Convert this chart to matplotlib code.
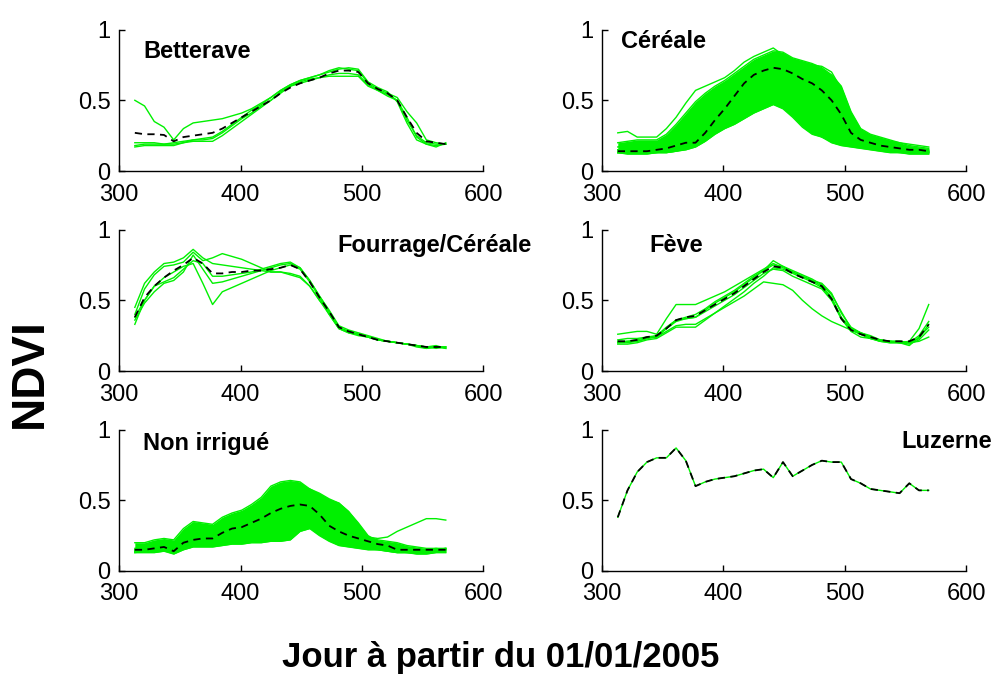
import numpy as np
import matplotlib
matplotlib.use('Agg')
import matplotlib.pyplot as plt

# days since 01/01/2005 (8-day composites)
days = [313, 321, 329, 337, 345, 353, 361, 369, 377, 385, 393, 401, 409, 417, 425, 433, 441,
        449, 457, 465, 473, 481, 489, 497, 505, 513, 521, 529, 537, 545, 553, 561, 569]

#------------------------------ NDVI profiles per crop class

betterave_lines = [
    [0.50, 0.46, 0.35, 0.31, 0.22, 0.30, 0.34, 0.35, 0.36, 0.37, 0.39, 0.41, 0.44, 0.48, 0.52, 0.57, 0.61,
     0.64, 0.66, 0.68, 0.71, 0.73, 0.72, 0.71, 0.62, 0.58, 0.55, 0.52, 0.42, 0.34, 0.22, 0.20, 0.19],
    [0.18, 0.19, 0.19, 0.19, 0.19, 0.20, 0.21, 0.21, 0.21, 0.25, 0.30, 0.35, 0.40, 0.45, 0.50, 0.55, 0.60,
     0.63, 0.65, 0.66, 0.68, 0.69, 0.69, 0.68, 0.61, 0.57, 0.54, 0.50, 0.36, 0.25, 0.20, 0.19, 0.19],
    [0.17, 0.18, 0.18, 0.18, 0.18, 0.20, 0.22, 0.23, 0.24, 0.28, 0.33, 0.38, 0.43, 0.47, 0.52, 0.57, 0.61,
     0.64, 0.66, 0.68, 0.70, 0.72, 0.73, 0.72, 0.63, 0.59, 0.56, 0.49, 0.34, 0.22, 0.19, 0.18, 0.19],
    [0.20, 0.20, 0.20, 0.19, 0.20, 0.21, 0.22, 0.22, 0.23, 0.27, 0.32, 0.37, 0.41, 0.46, 0.50, 0.56, 0.60,
     0.62, 0.64, 0.66, 0.67, 0.67, 0.67, 0.67, 0.60, 0.57, 0.53, 0.50, 0.38, 0.24, 0.19, 0.17, 0.20],
]
betterave_mean = [0.27, 0.26, 0.26, 0.255, 0.21, 0.24, 0.25, 0.26, 0.27, 0.30, 0.34, 0.38, 0.42, 0.46, 0.50,
                  0.55, 0.59, 0.62, 0.64, 0.66, 0.69, 0.71, 0.71, 0.70, 0.62, 0.58, 0.55, 0.50, 0.38, 0.27,
                  0.21, 0.20, 0.19]

# first profile stands apart from the bulk
cereale_lines = [
    [0.27, 0.28, 0.24, 0.24, 0.24, 0.30, 0.38, 0.48, 0.57, 0.60, 0.63, 0.66, 0.71, 0.77, 0.81, 0.84, 0.87,
     0.82, 0.79, 0.77, 0.75, 0.74, 0.70, 0.58, 0.38, 0.28, 0.25, 0.23, 0.21, 0.20, 0.19, 0.18, 0.17],
    [0.20, 0.21, 0.22, 0.22, 0.22, 0.26, 0.33, 0.41, 0.49, 0.55, 0.60, 0.64, 0.69, 0.74, 0.79, 0.82, 0.85,
     0.84, 0.80, 0.78, 0.76, 0.73, 0.68, 0.60, 0.42, 0.30, 0.26, 0.24, 0.22, 0.20, 0.18, 0.17, 0.16],
    [0.17, 0.18, 0.20, 0.20, 0.19, 0.22, 0.28, 0.35, 0.42, 0.50, 0.56, 0.61, 0.66, 0.71, 0.75, 0.78, 0.80,
     0.78, 0.76, 0.74, 0.72, 0.70, 0.64, 0.55, 0.36, 0.26, 0.23, 0.21, 0.19, 0.18, 0.17, 0.16, 0.15],
    [0.15, 0.16, 0.17, 0.17, 0.17, 0.19, 0.23, 0.28, 0.33, 0.41, 0.49, 0.55, 0.61, 0.67, 0.72, 0.75, 0.77,
     0.76, 0.73, 0.70, 0.67, 0.63, 0.57, 0.47, 0.31, 0.24, 0.21, 0.19, 0.18, 0.17, 0.16, 0.15, 0.14],
    [0.14, 0.14, 0.15, 0.15, 0.15, 0.17, 0.19, 0.22, 0.25, 0.33, 0.41, 0.48, 0.55, 0.62, 0.67, 0.70, 0.73,
     0.72, 0.69, 0.65, 0.60, 0.55, 0.48, 0.38, 0.27, 0.22, 0.19, 0.18, 0.17, 0.16, 0.15, 0.14, 0.14],
    [0.13, 0.13, 0.14, 0.14, 0.14, 0.15, 0.17, 0.19, 0.21, 0.27, 0.33, 0.40, 0.47, 0.54, 0.60, 0.65, 0.68,
     0.66, 0.62, 0.56, 0.50, 0.44, 0.38, 0.30, 0.24, 0.20, 0.18, 0.17, 0.16, 0.15, 0.14, 0.14, 0.13],
    [0.13, 0.13, 0.13, 0.13, 0.13, 0.14, 0.15, 0.17, 0.19, 0.24, 0.30, 0.35, 0.41, 0.47, 0.53, 0.58, 0.61,
     0.58, 0.52, 0.46, 0.40, 0.34, 0.30, 0.25, 0.21, 0.18, 0.17, 0.16, 0.15, 0.14, 0.14, 0.13, 0.13],
    [0.13, 0.13, 0.13, 0.13, 0.13, 0.13, 0.14, 0.16, 0.18, 0.22, 0.27, 0.31, 0.35, 0.39, 0.43, 0.46, 0.49,
     0.45, 0.40, 0.34, 0.28, 0.24, 0.21, 0.19, 0.18, 0.17, 0.16, 0.15, 0.14, 0.13, 0.13, 0.13, 0.13],
    [0.13, 0.12, 0.12, 0.12, 0.13, 0.13, 0.14, 0.15, 0.17, 0.21, 0.26, 0.30, 0.33, 0.37, 0.41, 0.44, 0.47,
     0.44, 0.38, 0.31, 0.26, 0.24, 0.20, 0.18, 0.17, 0.16, 0.15, 0.14, 0.13, 0.13, 0.12, 0.12, 0.12],
    [0.15, 0.15, 0.16, 0.16, 0.16, 0.17, 0.20, 0.23, 0.26, 0.31, 0.38, 0.45, 0.52, 0.60, 0.66, 0.71, 0.75,
     0.76, 0.75, 0.73, 0.71, 0.69, 0.64, 0.54, 0.34, 0.25, 0.21, 0.19, 0.18, 0.17, 0.16, 0.15, 0.14],
]
cereale_mean = [0.14, 0.14, 0.14, 0.14, 0.15, 0.16, 0.18, 0.20, 0.20, 0.27, 0.36, 0.44, 0.53, 0.62, 0.68,
                0.71, 0.73, 0.72, 0.69, 0.65, 0.62, 0.57, 0.50, 0.40, 0.27, 0.22, 0.20, 0.18, 0.17, 0.16,
                0.15, 0.15, 0.14]

fourrage_lines = [
    [0.33, 0.50, 0.60, 0.66, 0.70, 0.74, 0.76, 0.62, 0.47, 0.56, 0.59, 0.62, 0.65, 0.68, 0.71, 0.73, 0.75,
     0.72, 0.63, 0.52, 0.40, 0.30, 0.28, 0.26, 0.24, 0.22, 0.21, 0.20, 0.19, 0.18, 0.17, 0.18, 0.16],
    [0.40, 0.58, 0.68, 0.74, 0.75, 0.77, 0.84, 0.78, 0.80, 0.83, 0.81, 0.79, 0.76, 0.73, 0.70, 0.70, 0.69,
     0.67, 0.60, 0.50, 0.42, 0.30, 0.27, 0.25, 0.24, 0.22, 0.21, 0.20, 0.19, 0.18, 0.16, 0.17, 0.16],
    [0.36, 0.48, 0.56, 0.62, 0.64, 0.70, 0.82, 0.72, 0.62, 0.63, 0.65, 0.67, 0.69, 0.71, 0.73, 0.75, 0.76,
     0.73, 0.64, 0.53, 0.42, 0.31, 0.28, 0.26, 0.24, 0.22, 0.21, 0.20, 0.19, 0.18, 0.17, 0.17, 0.17],
    [0.45, 0.62, 0.70, 0.76, 0.77, 0.80, 0.86, 0.80, 0.76, 0.75, 0.74, 0.73, 0.72, 0.71, 0.70, 0.70, 0.68,
     0.66, 0.60, 0.50, 0.40, 0.30, 0.27, 0.26, 0.24, 0.22, 0.21, 0.20, 0.19, 0.18, 0.17, 0.16, 0.17],
    [0.38, 0.50, 0.60, 0.63, 0.66, 0.72, 0.78, 0.76, 0.67, 0.67, 0.68, 0.69, 0.70, 0.72, 0.74, 0.76, 0.77,
     0.73, 0.64, 0.53, 0.43, 0.32, 0.29, 0.27, 0.25, 0.23, 0.21, 0.20, 0.19, 0.17, 0.16, 0.17, 0.17],
]
fourrage_mean = [0.38, 0.52, 0.60, 0.66, 0.71, 0.75, 0.80, 0.76, 0.69, 0.69, 0.70, 0.70, 0.71, 0.71, 0.72,
                 0.73, 0.75, 0.72, 0.63, 0.52, 0.42, 0.31, 0.28, 0.26, 0.24, 0.22, 0.21, 0.20, 0.19, 0.18,
                 0.17, 0.17, 0.17]

feve_lines = [
    [0.26, 0.27, 0.28, 0.28, 0.26, 0.37, 0.47, 0.47, 0.47, 0.50, 0.53, 0.56, 0.60, 0.64, 0.68, 0.72, 0.76,
     0.73, 0.70, 0.67, 0.64, 0.60, 0.52, 0.38, 0.30, 0.27, 0.25, 0.22, 0.21, 0.20, 0.21, 0.30, 0.47],
    [0.22, 0.23, 0.23, 0.24, 0.24, 0.28, 0.32, 0.33, 0.33, 0.37, 0.41, 0.45, 0.49, 0.53, 0.58, 0.63, 0.62,
     0.61, 0.57, 0.50, 0.44, 0.39, 0.35, 0.32, 0.29, 0.26, 0.23, 0.21, 0.21, 0.20, 0.20, 0.21, 0.24],
    [0.20, 0.20, 0.21, 0.23, 0.24, 0.30, 0.35, 0.37, 0.38, 0.43, 0.48, 0.52, 0.56, 0.61, 0.66, 0.71, 0.78,
     0.74, 0.71, 0.68, 0.65, 0.61, 0.54, 0.42, 0.30, 0.27, 0.24, 0.21, 0.20, 0.20, 0.19, 0.22, 0.29],
    [0.19, 0.19, 0.20, 0.22, 0.23, 0.27, 0.31, 0.31, 0.31, 0.36, 0.41, 0.46, 0.51, 0.56, 0.62, 0.67, 0.73,
     0.72, 0.69, 0.66, 0.63, 0.59, 0.51, 0.37, 0.28, 0.24, 0.23, 0.21, 0.20, 0.20, 0.18, 0.24, 0.31],
    [0.20, 0.21, 0.21, 0.23, 0.25, 0.31, 0.36, 0.38, 0.40, 0.44, 0.49, 0.53, 0.57, 0.62, 0.67, 0.71, 0.75,
     0.74, 0.70, 0.67, 0.64, 0.62, 0.55, 0.41, 0.31, 0.27, 0.24, 0.22, 0.21, 0.21, 0.20, 0.25, 0.35],
    [0.21, 0.21, 0.22, 0.24, 0.25, 0.30, 0.36, 0.37, 0.38, 0.42, 0.46, 0.50, 0.54, 0.59, 0.64, 0.69, 0.72,
     0.71, 0.67, 0.64, 0.61, 0.58, 0.50, 0.37, 0.29, 0.26, 0.23, 0.22, 0.21, 0.21, 0.20, 0.23, 0.33],
]
feve_mean = [0.21, 0.21, 0.22, 0.24, 0.25, 0.30, 0.36, 0.38, 0.39, 0.43, 0.47, 0.51, 0.55, 0.60, 0.65,
             0.70, 0.74, 0.73, 0.69, 0.66, 0.63, 0.60, 0.51, 0.37, 0.29, 0.26, 0.24, 0.22, 0.21, 0.21,
             0.21, 0.24, 0.33]

# first profile (late regrowth) stands apart from the bulk
non_irrigue_lines = [
    [0.16, 0.17, 0.18, 0.19, 0.16, 0.24, 0.30, 0.31, 0.31, 0.34, 0.37, 0.40, 0.44, 0.49, 0.55, 0.58, 0.60,
     0.57, 0.54, 0.52, 0.50, 0.46, 0.40, 0.31, 0.24, 0.23, 0.24, 0.28, 0.31, 0.34, 0.37, 0.37, 0.36],
    [0.20, 0.20, 0.22, 0.23, 0.22, 0.30, 0.35, 0.34, 0.33, 0.38, 0.41, 0.43, 0.47, 0.52, 0.60, 0.63, 0.64,
     0.63, 0.58, 0.54, 0.50, 0.48, 0.42, 0.33, 0.24, 0.22, 0.21, 0.20, 0.18, 0.17, 0.16, 0.16, 0.15],
    [0.15, 0.15, 0.17, 0.19, 0.15, 0.22, 0.26, 0.27, 0.28, 0.32, 0.36, 0.38, 0.42, 0.46, 0.51, 0.54, 0.56,
     0.55, 0.52, 0.45, 0.36, 0.30, 0.26, 0.23, 0.20, 0.18, 0.17, 0.16, 0.15, 0.15, 0.15, 0.16, 0.16],
    [0.14, 0.15, 0.16, 0.18, 0.14, 0.20, 0.23, 0.24, 0.24, 0.28, 0.32, 0.34, 0.37, 0.41, 0.45, 0.48, 0.50,
     0.51, 0.49, 0.42, 0.33, 0.28, 0.25, 0.22, 0.20, 0.18, 0.17, 0.15, 0.15, 0.14, 0.15, 0.15, 0.16],
    [0.14, 0.14, 0.15, 0.16, 0.13, 0.19, 0.21, 0.22, 0.22, 0.26, 0.29, 0.30, 0.33, 0.36, 0.40, 0.43, 0.45,
     0.46, 0.44, 0.38, 0.30, 0.26, 0.23, 0.21, 0.19, 0.17, 0.16, 0.15, 0.14, 0.14, 0.14, 0.14, 0.15],
    [0.13, 0.14, 0.14, 0.15, 0.13, 0.17, 0.19, 0.20, 0.20, 0.23, 0.26, 0.27, 0.29, 0.31, 0.34, 0.37, 0.40,
     0.42, 0.40, 0.34, 0.27, 0.24, 0.21, 0.19, 0.17, 0.16, 0.15, 0.14, 0.13, 0.13, 0.13, 0.14, 0.14],
    [0.13, 0.13, 0.13, 0.14, 0.12, 0.15, 0.17, 0.17, 0.17, 0.18, 0.19, 0.19, 0.20, 0.20, 0.21, 0.21, 0.22,
     0.28, 0.30, 0.25, 0.21, 0.18, 0.17, 0.16, 0.15, 0.15, 0.14, 0.13, 0.13, 0.12, 0.12, 0.13, 0.13],
    [0.14, 0.14, 0.15, 0.16, 0.14, 0.18, 0.20, 0.21, 0.21, 0.22, 0.23, 0.24, 0.25, 0.27, 0.29, 0.32, 0.36,
     0.38, 0.37, 0.32, 0.26, 0.22, 0.19, 0.17, 0.16, 0.15, 0.14, 0.13, 0.13, 0.13, 0.13, 0.14, 0.15],
    [0.15, 0.16, 0.17, 0.19, 0.16, 0.23, 0.29, 0.30, 0.30, 0.33, 0.36, 0.37, 0.40, 0.44, 0.50, 0.55, 0.58,
     0.60, 0.58, 0.55, 0.51, 0.48, 0.42, 0.34, 0.25, 0.21, 0.19, 0.17, 0.16, 0.15, 0.15, 0.15, 0.16],
]
non_irrigue_mean = [0.15, 0.15, 0.16, 0.17, 0.14, 0.20, 0.22, 0.23, 0.23, 0.27, 0.30, 0.31, 0.34, 0.37, 0.41,
                    0.44, 0.46, 0.47, 0.46, 0.40, 0.32, 0.28, 0.25, 0.23, 0.21, 0.19, 0.18, 0.15, 0.15, 0.15,
                    0.15, 0.15, 0.15]

luzerne_ndvi = [0.38, 0.57, 0.70, 0.77, 0.80, 0.80, 0.87, 0.78, 0.60, 0.63, 0.65, 0.66, 0.67, 0.69, 0.71,
                0.72, 0.66, 0.77, 0.67, 0.71, 0.75, 0.78, 0.77, 0.77, 0.65, 0.62, 0.58, 0.57, 0.56, 0.55,
                0.62, 0.57, 0.57]

green = '#00f000'
font = 'Liberation Sans'

#------------------------------ figure with 6 panels

fig = plt.figure(figsize=(9.97, 6.80), dpi=100)

left_x = [0.1194, 0.6038]
bottoms = [0.7485, 0.4544, 0.1603]
w, h = 0.3655, 0.2080

# lines, mean, name, title position, number of outlying profiles left out of the band (None = no band)
panels = [
    (betterave_lines, betterave_mean, 'Betterave', 0.066, 0.80, None),
    (cereale_lines, cereale_mean, 'Céréale', 0.053, 0.872, 1),
    (fourrage_lines, fourrage_mean, 'Fourrage/Céréale', 0.60, 0.844, None),
    (feve_lines, feve_mean, 'Fève', 0.131, 0.844, None),
    (non_irrigue_lines, non_irrigue_mean, 'Non irrigué', 0.066, 0.852, 1),
    ([luzerne_ndvi], luzerne_ndvi, 'Luzerne', 0.822, 0.873, None),
]

for i, (lines, mean, name, tx, ty, n_out) in enumerate(panels):
    ax = fig.add_axes([left_x[i % 2], bottoms[i // 2], w, h])
    if n_out is not None:
        # solid band covering the bulk of the profiles
        core = np.array(lines[n_out:])
        ax.fill_between(days, core.min(axis=0), core.max(axis=0), color=green, lw=0)
    for line in lines:
        ax.plot(days, line, color=green, lw=1.0)
    ax.plot(days, mean, color='black', lw=1.3, ls=(0, (4, 3)))

    ax.set_xlim(300, 600)
    ax.set_ylim(0, 1)
    ax.set_xticks([300, 400, 500, 600])
    ax.set_yticks([0, 0.5, 1])
    ax.set_yticklabels(['0', '0.5', '1'])
    for side in ['top', 'right']:
        ax.spines[side].set_visible(False)
    for side in ['left', 'bottom']:
        ax.spines[side].set_linewidth(1.0)
    ax.tick_params(direction='in', length=4, width=1, labelsize=17, colors='black')
    ax.tick_params(axis='x', pad=9)
    ax.tick_params(axis='y', pad=6)
    for lab in ax.get_xticklabels() + ax.get_yticklabels():
        lab.set_family(font)
    ax.text(tx, ty, name, transform=ax.transAxes, fontsize=17, fontweight='bold',
            family=font, ha='left', va='baseline')

fig.text(0.030, 0.4515, 'NDVI', rotation=90, fontsize=33, fontweight='bold',
         family=font, ha='center', va='center')
fig.text(0.5025, 0.019, 'Jour à partir du 01/01/2005', fontsize=25, fontweight='bold',
         family=font, ha='center', va='baseline')

plt.savefig('out.png', dpi=100)
